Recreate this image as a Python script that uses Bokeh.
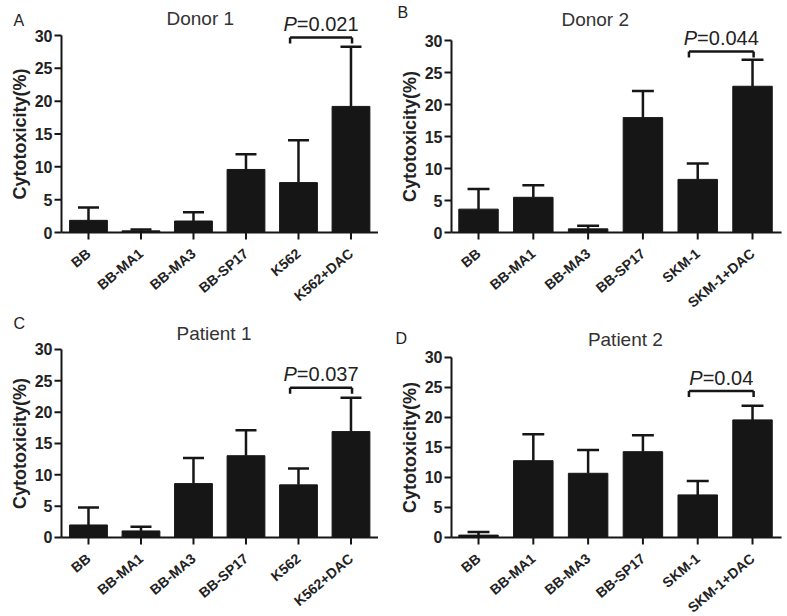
import math
from bokeh.plotting import figure
from bokeh.layouts import column, row
from bokeh.models import ColumnDataSource, Range1d
from bokeh.core.properties import value
from bokeh.embed import file_html
from bokeh.resources import INLINE

# ---------------- data ----------------
cats_k562 = ["BB", "BB-MA1", "BB-MA3", "BB-SP17", "K562", "K562+DAC"]
cats_skm1 = ["BB", "BB-MA1", "BB-MA3", "BB-SP17", "SKM-1", "SKM-1+DAC"]

donor1_mean = [1.85, 0.25, 1.75, 9.6, 7.6, 19.2]
donor1_upper = [3.8, 0.45, 3.1, 11.9, 14.05, 28.3]
donor2_mean = [3.65, 5.5, 0.57, 17.95, 8.3, 22.85]
donor2_upper = [6.8, 7.4, 1.05, 22.1, 10.8, 27.0]
patient1_mean = [2.0, 1.05, 8.6, 13.05, 8.4, 16.9]
patient1_upper = [4.8, 1.7, 12.7, 17.1, 11.0, 22.3]
patient2_mean = [0.4, 12.8, 10.7, 14.3, 7.1, 19.6]
patient2_upper = [0.9, 17.2, 14.6, 17.05, 9.4, 21.95]

panel_letters = ["A", "B", "C", "D"]
panel_titles = ["Donor 1", "Donor 2", "Patient 1", "Patient 2"]
p_values = ["=0.021", "=0.044", "=0.037", "=0.04"]
bracket_levels = [29.7, 28.3, 23.9, 24.4]
y_ticks = [0, 5, 10, 15, 20, 25, 30]
y_tick_labels = ["0", "5", "10", "15", "20", "25", "30"]
y_label = "Cytotoxicity(%)"

FONT = "Liberation Sans"
TXT = "#222222"
INK = "#161616"

# Arial-like advance widths (em) for centering the P-value text
W = {"P": 0.667, "=": 0.584, ".": 0.278}


def text_width(s, size):
    return sum(W.get(c, 0.556) for c in s) * size


def make_panel(cats, means, uppers, letter, title, pval, blevel, g):
    n = len(cats)
    xs = list(range(n))
    ax = g["ax"]            # data x of the y axis line
    ppx = g["ppx"]          # pixels per x unit
    ppu = g["ppu"]          # pixels per y unit

    def dx(px):             # horizontal pixel offset from the y axis -> data x
        return ax + px / ppx

    def dy(px):             # vertical pixel offset above y=30 -> data y
        return 30 + px / ppu

    x_start = dx(-g["left"])
    x_end = dx(g["fw"] - g["left"])
    y_start = -g["below"] / ppu
    p = figure(frame_width=g["fw"], frame_height=g["fh"],
               x_range=Range1d(x_start, x_end), y_range=Range1d(y_start, g["y1"]),
               min_border_left=0, min_border_right=0,
               min_border_top=0, min_border_bottom=0,
               output_backend="svg", toolbar_location=None,
               background_fill_color="white", border_fill_color="white")
    p.outline_line_color = None
    p.xgrid.visible = False
    p.ygrid.visible = False
    p.xaxis.visible = False
    p.yaxis.visible = False

    src = ColumnDataSource(dict(
        x=xs, top=means, upper=uppers,
        cl=[x - 0.2 for x in xs], cr=[x + 0.2 for x in xs]))
    p.segment(x0="x", y0="top", x1="x", y1="upper", source=src,
              line_color=INK, line_width=2.5)
    p.segment(x0="cl", y0="upper", x1="cr", y1="upper", source=src,
              line_color=INK, line_width=2.5)
    p.vbar(x="x", top="top", width=0.72, source=src,
           fill_color=INK, line_color=INK, line_width=1)

    # ---- y axis ----
    p.segment(x0=[ax], y0=[0], x1=[ax], y1=[30], line_color=INK, line_width=2)
    ysrc = ColumnDataSource(dict(
        y=y_ticks, lab=y_tick_labels,
        x0=[dx(-7)] * len(y_ticks), x1=[ax] * len(y_ticks),
        xl=[dx(-9)] * len(y_ticks)))
    p.segment(x0="x0", y0="y", x1="x1", y1="y", source=ysrc,
              line_color=INK, line_width=2)
    p.text(x="xl", y="y", text="lab", source=ysrc,
           text_font=value(FONT), text_font_style="bold",
           text_font_size="16px", text_color=TXT,
           text_align="right", text_baseline="middle")
    p.text(x=[dx(-42)], y=[15], text=[y_label], angle=math.pi / 2,
           text_font=value(FONT), text_font_style="bold",
           text_font_size="18px", text_color=TXT,
           text_align="center", text_baseline="middle")

    # ---- x axis ----
    p.segment(x0=[ax], y0=[0], x1=[g["x1"]], y1=[0], line_color=INK, line_width=2)
    xsrc = ColumnDataSource(dict(
        x=xs, lab=cats, y0=[0] * n, y1=[-7 / ppu] * n, yl=[-19 / ppu] * n))
    p.segment(x0="x", y0="y0", x1="x", y1="y1", source=xsrc,
              line_color=INK, line_width=2)
    p.text(x="x", y="yl", text="lab", source=xsrc, angle=0.7,
           text_font=value(FONT), text_font_style="bold",
           text_font_size="14px", text_color=TXT,
           text_align="right", text_baseline="middle")

    # ---- significance bracket between the last two groups ----
    bx0, bx1 = n - 2 - 0.16, n - 1 + 0.02
    tick = 6.0 / ppu
    p.segment(x0=[bx0, bx0, bx1], y0=[blevel, blevel, blevel],
              x1=[bx1, bx0, bx1], y1=[blevel, blevel - tick, blevel - tick],
              line_color=INK, line_width=2.5)
    psize = 20
    total = text_width("P" + pval, psize)
    cx = (bx0 + bx1) / 2
    ty = blevel + 13.5 / ppu
    p.text(x=[cx - total / 2 / ppx], y=[ty], text=["P"],
           text_font=value(FONT), text_font_style="italic",
           text_font_size=f"{psize}px", text_color=TXT,
           text_align="left", text_baseline="middle")
    p.text(x=[cx + (-total / 2 + W["P"] * psize) / ppx], y=[ty], text=[pval],
           text_font=value(FONT), text_font_size=f"{psize}px", text_color=TXT,
           text_align="left", text_baseline="middle")

    # ---- title and panel letter ----
    p.text(x=[g["tx"]], y=[dy(g["ty"])], text=[title],
           text_font=value(FONT), text_font_size="19px", text_color="#333333",
           text_align="center", text_baseline="middle")
    p.text(x=[dx(g["lx"])], y=[dy(g["ly"])], text=[letter],
           text_font=value(FONT), text_font_size="16px", text_color=TXT,
           text_align="left", text_baseline="middle")
    return p


# layout: each frame covers its whole figure; the page has no margin
geomA = dict(fw=393, fh=310, left=61, below=78, ax=-0.514, x1=5.514, ppx=52.5,
             y1=35.33, ppu=6.567, tx=2.13, ty=17.5, lx=-48, ly=15)
geomB = dict(fw=393, fh=310, left=58, below=78, ax=-0.493, x1=5.53, ppx=54.8,
             y1=36.25, ppu=6.4, tx=2.13, ty=21.5, lx=-54, ly=28)
geomC = dict(fw=393, fh=305, left=61, below=78, ax=-0.514, x1=5.514, ppx=52.5,
             y1=36.22, ppu=6.267, tx=2.39, ty=15.5, lx=-48, ly=26)
geomD = dict(fw=393, fh=305, left=58, below=78, ax=-0.493, x1=5.53, ppx=54.8,
             y1=37.83, ppu=6.0, tx=2.68, ty=18, lx=-56, ly=19)

pA = make_panel(cats_k562, donor1_mean, donor1_upper, panel_letters[0],
                panel_titles[0], p_values[0], bracket_levels[0], geomA)
pB = make_panel(cats_skm1, donor2_mean, donor2_upper, panel_letters[1],
                panel_titles[1], p_values[1], bracket_levels[1], geomB)
pC = make_panel(cats_k562, patient1_mean, patient1_upper, panel_letters[2],
                panel_titles[2], p_values[2], bracket_levels[2], geomC)
pD = make_panel(cats_skm1, patient2_mean, patient2_upper, panel_letters[3],
                panel_titles[3], p_values[3], bracket_levels[3], geomD)

layout = column(row(pA, pB), row(pC, pD))
open("out.html", "w").write(file_html(layout, INLINE))
